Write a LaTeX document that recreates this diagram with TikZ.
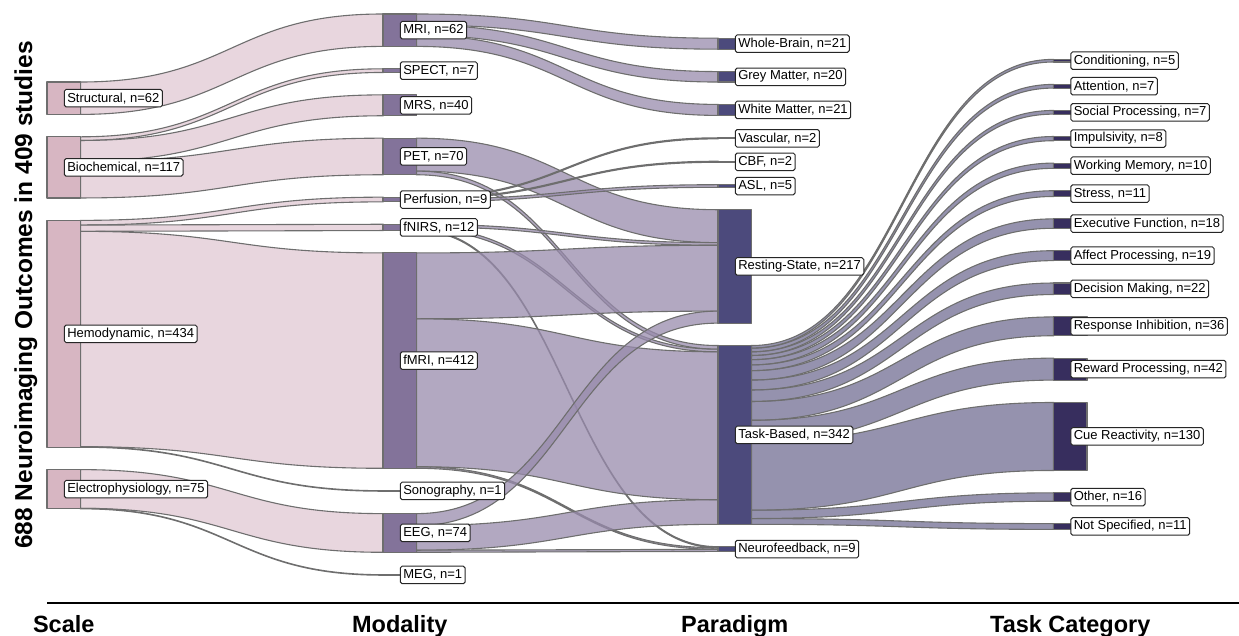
\documentclass[tikz,border=0pt]{standalone}
\usepackage{fontspec}
\setmainfont{Liberation Sans}
\usetikzlibrary{backgrounds}

\definecolor{linegray}{HTML}{6E6E6E}
\definecolor{scalebar}{HTML}{D7B6C2}
\definecolor{modbar}{HTML}{83739A}
\definecolor{parbar}{HTML}{4C4A7C}
\definecolor{taskbar}{HTML}{372E5E}
\definecolor{scaleflow}{HTML}{E0C8D3}
\definecolor{modflow}{HTML}{988BAC}
\definecolor{parflow}{HTML}{726E93}

\newcommand\labfont{\fontsize{13}{14}\selectfont}
\def\pxu{0.5227} \def\padd{22.4} \def\bend{151}

\tikzset{
  bar/.style={draw=linegray,line width=1.1pt,minimum width=33.5pt,inner sep=0pt,outer sep=0pt,anchor=north west},
  lab/.style={draw=black!85,fill=white,line width=1pt,rounded corners=1.8pt,inner xsep=3pt,inner ysep=0pt,
    minimum height=17.5pt,anchor=west,font=\labfont},
  link/.style={draw=linegray,line width=1.1pt,fill opacity=.75},
  head/.style={font=\fontsize{23.5}{26}\selectfont\bfseries,anchor=base}
}

% one column of bars: left x, first top, colour, list name/value/text
\newcommand\sankeycol[4]{%
  \xdef\colpos{#2}%
  \foreach \nm/\v/\txt in {#4}{
    \pgfmathsetmacro\hgt{\v*\pxu}
    \node[bar,fill=#3,minimum height=\hgt pt] (\nm) at (#1,\colpos) {};
    \node[lab] (\nm-l) at (\nm.center) {\txt, n=\v\hspace{8pt}};
    \pgfmathsetmacro\nxt{\colpos+\hgt+\padd}
    \xdef\colpos{\nxt}
  }}

% one band: from, to, value, colour
\newcommand\flow[4]{%
  \ifcsname out#1\endcsname\else\expandafter\gdef\csname out#1\endcsname{0}\fi
  \ifcsname in#2\endcsname\else\expandafter\gdef\csname in#2\endcsname{0}\fi
  \edef\oa{\csname out#1\endcsname}\edef\ob{\csname in#2\endcsname}%
  \pgfmathsetmacro\ya{\oa*\pxu}%
  \pgfmathsetmacro\yb{\ob*\pxu}%
  \pgfmathsetmacro\hh{#3*\pxu}%
  \path (#1.north east) ++(0,\ya) coordinate (fa) ++(0,\hh) coordinate (fa2)
        (#2.north west) ++(0,\yb) coordinate (fb) ++(0,\hh) coordinate (fb2);
  \filldraw[link,fill=#4] (fa) .. controls +(\bend,0) and +(-\bend,0) .. (fb)
     -- (fb2) .. controls +(-\bend,0) and +(\bend,0) .. (fa2) -- cycle;
  \pgfmathsetmacro\oa{\oa+#3}\expandafter\xdef\csname out#1\endcsname{\oa}%
  \pgfmathsetmacro\ob{\ob+#3}\expandafter\xdef\csname in#2\endcsname{\ob}%
}

\begin{document}
\begin{tikzpicture}[x=1pt,y=-1pt,line join=round,line cap=round]
  \useasboundingbox (0,0) rectangle (1239,636);

  \sankeycol{47}{82}{scalebar}{str/62/Structural, bio/117/Biochemical, hem/434/Hemodynamic, ele/75/Electrophysiology}
  \sankeycol{383}{14}{modbar}{mri/62/MRI, spe/7/SPECT, mrs/40/MRS, pet/70/PET, per/9/Perfusion, fni/12/fNIRS,
    fmr/412/fMRI, son/1/Sonography, eeg/74/EEG, meg/1/MEG}
  \sankeycol{718}{38.2}{parbar}{wb/21/Whole-Brain, gm/20/Grey Matter, wm/21/White Matter, vas/2/Vascular, cbf/2/CBF,
    asl/5/ASL, rs/217/Resting-State, tb/342/Task-Based, nf/9/Neurofeedback}
  \sankeycol{1053.5}{59.4}{taskbar}{cond/5/Conditioning, attn/7/Attention, soc/7/Social Processing, imp/8/Impulsivity,
    wmem/10/Working Memory, stress/11/Stress, exec/18/Executive Function, aff/19/Affect Processing,
    dec/22/Decision Making, resp/36/Response Inhibition, rew/42/Reward Processing, cue/130/Cue Reactivity,
    oth/16/Other, nsp/11/Not Specified}

  \begin{pgfonlayer}{background}
    % scale -> modality
    \flow{str}{mri}{62}{scaleflow}
    \flow{bio}{spe}{7}{scaleflow} \flow{bio}{mrs}{40}{scaleflow} \flow{bio}{pet}{70}{scaleflow}
    \flow{hem}{per}{9}{scaleflow} \flow{hem}{fni}{12}{scaleflow} \flow{hem}{fmr}{412}{scaleflow} \flow{hem}{son}{1}{scaleflow}
    \flow{ele}{eeg}{74}{scaleflow} \flow{ele}{meg}{1}{scaleflow}
    % modality -> paradigm
    \flow{mri}{wb}{21}{modflow} \flow{mri}{gm}{20}{modflow} \flow{mri}{wm}{21}{modflow}
    \flow{pet}{rs}{63}{modflow} \flow{pet}{tb}{7}{modflow}
    \flow{per}{vas}{2}{modflow} \flow{per}{cbf}{2}{modflow} \flow{per}{asl}{5}{modflow}
    \flow{fni}{rs}{5}{modflow} \flow{fni}{tb}{5}{modflow} \flow{fni}{nf}{2}{modflow}
    \flow{fmr}{rs}{126}{modflow} \flow{fmr}{tb}{283}{modflow} \flow{fmr}{nf}{3}{modflow}
    \flow{eeg}{rs}{23}{modflow} \flow{eeg}{tb}{47}{modflow} \flow{eeg}{nf}{4}{modflow}
    % paradigm -> task category
    \foreach \t/\v in {cond/5, attn/7, soc/7, imp/8, wmem/10, stress/11, exec/18, aff/19, dec/22,
      resp/36, rew/42, cue/130, oth/16, nsp/11}
      \flow{tb}{\t}{\v}{parflow};
  \end{pgfonlayer}

  \node[rotate=90,anchor=base,font=\fontsize{24.5}{28}\selectfont\bfseries] (title) at (32,295)
    {688 Neuroimaging Outcomes in 409 studies};
  \draw[line width=2pt,line cap=butt] (47,603.3) -- (1239,603.3);
  \node[head] (h-scale) at (63.75,632) {Scale};
  \node[head] (h-mod) at (399.75,632) {Modality};
  \node[head] (h-par) at (734.75,632) {Paradigm};
  \node[head] (h-task) at (1070.25,632) {Task Category};
\end{tikzpicture}
\end{document}
